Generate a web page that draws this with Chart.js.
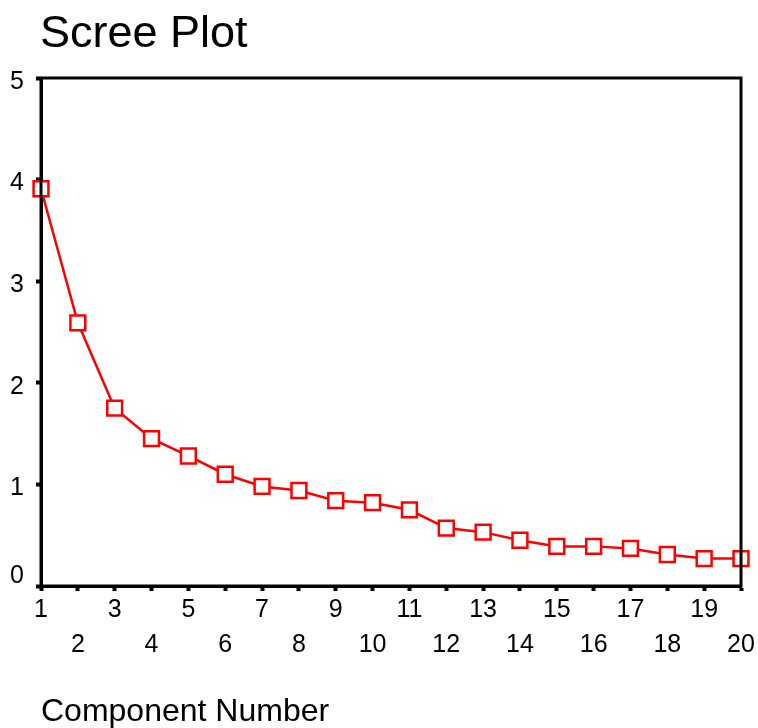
<!DOCTYPE html>
<html>
<head>
<meta charset="utf-8">
<script src="https://cdn.jsdelivr.net/npm/chart.js@4"></script>
<style>
    body { margin: 0; background: #fff; }
    #wrap { position: relative; width: 758px; height: 728px; }
    #title {
        position: absolute; left: 40px; top: 9px;
        font: 45px "Liberation Sans", Arial, sans-serif; line-height: 45px;
        color: #000; white-space: nowrap;
    }
</style>
</head>
<body>
<div id="wrap">
    <div id="title">Scree Plot</div>
    <canvas id="scree" width="758" height="728"></canvas>
</div>
<script>
// Scree plot data
const components = ['1','2','3','4','5','6','7','8','9','10','11','12','13','14','15','16','17','18','19','20'];
const eigenvalues = [3.91, 2.59, 1.75, 1.45, 1.28, 1.10, 0.98, 0.94, 0.84, 0.82, 0.75, 0.57, 0.53, 0.45, 0.39, 0.39, 0.37, 0.31, 0.27, 0.27];
const yTickValues = [0, 1, 2, 3, 4, 5];

const fontFamily = '"Liberation Sans", Arial, sans-serif';

// top and right edges of the plot box
const framePlugin = {
    id: 'frame',
    afterDraw(chart) {
        const a = chart.chartArea;
        const ctx = chart.ctx;
        ctx.save();
        ctx.strokeStyle = '#000';
        ctx.lineWidth = 3;
        ctx.strokeRect(a.left, a.top, a.right - a.left, a.bottom - a.top);
        ctx.restore();
    }
};

const ctx = document.getElementById('scree').getContext('2d');
new Chart(ctx, {
    type: 'line',
    data: {
        labels: components,
        datasets: [{
            label: 'Eigenvalue',
            data: eigenvalues,
            borderColor: '#ff0000',
            borderWidth: 2.5,
            tension: 0,
            fill: false,
            clip: false,
            pointStyle: 'rect',
            pointRadius: 10.5,
            pointHoverRadius: 10.5,
            pointBorderWidth: 2.5,
            pointBorderColor: '#ff0000',
            pointBackgroundColor: '#ffffff'
        }]
    },
    options: {
        responsive: false,
        animation: false,
        layout: { padding: { top: 78, right: 17, left: 0, bottom: 0 } },
        plugins: {
            legend: { display: false },
            tooltip: { enabled: false }
        },
        scales: {
            x: {
                z: 1,
                offset: false,
                afterFit(scale) { scale.height = 142; },
                border: { display: true, color: '#000', width: 3 },
                grid: { drawOnChartArea: false, drawTicks: true, tickLength: 5, tickWidth: 4, tickColor: '#000' },
                ticks: {
                    autoSkip: false,
                    maxRotation: 0,
                    padding: 2,
                    color: '#000',
                    font: { family: fontFamily, size: 25, lineHeight: 35 / 25 },
                    callback(value, index) {
                        const lab = components[index];
                        return index % 2 === 0 ? [lab, ''] : ['', lab];
                    }
                },
                title: {
                    display: true,
                    text: 'Component Number',
                    align: 'start',
                    color: '#000',
                    font: { family: fontFamily, size: 32, lineHeight: 1 },
                    padding: { top: 0, bottom: 0 }
                }
            },
            y: {
                z: 1,
                min: 0,
                max: 5,
                afterFit(scale) { scale.width = 41; },
                afterBuildTicks(scale) { scale.ticks = yTickValues.map(v => ({ value: v })); },
                border: { display: true, color: '#000', width: 3 },
                grid: { drawOnChartArea: false, drawTicks: true, tickLength: 5, tickWidth: 4, tickColor: '#000' },
                ticks: {
                    padding: 12,
                    labelOffset: 4,
                    color: '#000',
                    font: { family: fontFamily, size: 25, lineHeight: 28 / 25 },
                    callback(value) {
                        return value === 0 ? ['0', ''] : String(value);
                    }
                }
            }
        }
    },
    plugins: [framePlugin]
});
</script>
</body>
</html>
